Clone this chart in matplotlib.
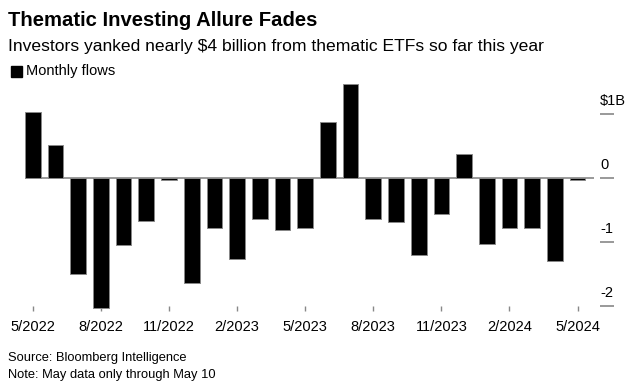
import matplotlib.pyplot as plt
import numpy as np

plt.rcParams["font.family"] = ["Liberation Sans", "DejaVu Sans"]

months = ["5/2022", "6/2022", "7/2022", "8/2022", "9/2022", "10/2022", "11/2022",
          "12/2022", "1/2023", "2/2023", "3/2023", "4/2023", "5/2023", "6/2023",
          "7/2023", "8/2023", "9/2023", "10/2023", "11/2023", "12/2023", "1/2024",
          "2/2024", "3/2024", "4/2024", "5/2024"]
flows = [1.03, 0.52, -1.49, -2.02, -1.04, -0.67, -0.02, -1.64, -0.77, -1.26,
         -0.63, -0.81, -0.77, 0.875, 1.48, -0.63, -0.68, -1.20, -0.55, 0.375,
         -1.02, -0.77, -0.77, -1.29, -0.03]
ytick_vals = [1, 0, -1, -2]
ytick_labels = ["$1B", "0", "-1", "-2"]

fig = plt.figure(figsize=(6.4, 3.91), dpi=100)
ax = fig.add_axes([0, 0, 1, 1])
ax.set_xlim(-1.445, 26.75)
ax.set_ylim(-3.323, 2.786)
ax.axis("off")

x = np.arange(len(flows))
ax.bar(x, flows, width=0.69, color="black", edgecolor="#888888", linewidth=0.7, zorder=3)
ax.hlines(0, -0.35, 24.72, color="#888888", linewidth=1.2, zorder=2)

# y axis ticks on the right
for v, lab in zip(ytick_vals, ytick_labels):
    ax.hlines(v, 24.99, 25.6, color="#888888", linewidth=1.2)
    ax.text(25.0, v + 0.1, lab, fontsize=10.5, ha="left", va="bottom")

# x axis ticks
for i in range(0, len(months), 3):
    ax.vlines(i, -2.0, -2.08, color="#888888", linewidth=1)
    ax.text(i, -2.32, months[i], fontsize=10.5, ha="center", va="center")

fig.text(8 / 640, 1 - 20 / 391, "Thematic Investing Allure Fades", fontsize=14.6,
         fontweight="bold", ha="left", va="center")
fig.text(8 / 640, 1 - 47 / 391,
         "Investors yanked nearly $4 billion from thematic ETFs so far this year",
         fontsize=12.6, ha="left", va="center")
fig.patches.append(plt.Rectangle((11 / 640, 1 - 77 / 391), 11 / 640, 11 / 391,
                                 transform=fig.transFigure, color="black"))
fig.text(26 / 640, 1 - 71 / 391, "Monthly flows", fontsize=10.5, ha="left", va="center")
fig.text(8 / 640, 1 - 358 / 391, "Source: Bloomberg Intelligence", fontsize=9.3,
         ha="left", va="center")
fig.text(8 / 640, 1 - 375 / 391, "Note: May data only through May 10", fontsize=9.3,
         ha="left", va="center")

fig.savefig("out.png", dpi=100)
